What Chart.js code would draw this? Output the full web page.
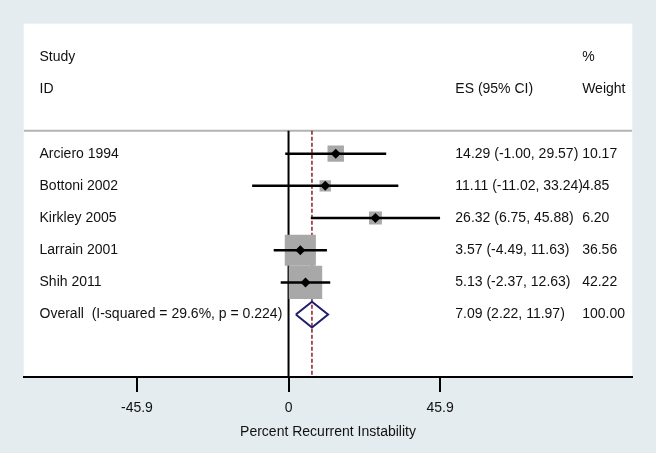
<!DOCTYPE html>
<html>
<head>
<meta charset="utf-8">
<script src="https://cdn.jsdelivr.net/npm/chart.js@4.4.0/dist/chart.umd.min.js"></script>
<style>
  html, body { margin: 0; padding: 0; background: #e5ecef; }
  #wrap { width: 656px; height: 453px; }
</style>
</head>
<body>
<div id="wrap"><canvas id="forest" width="656" height="453"></canvas></div>
<script>
// study rows, top to bottom
const studies = ["Arciero 1994", "Bottoni 2002", "Kirkley 2005", "Larrain 2001", "Shih 2011"];
const es = [14.29, 11.11, 26.32, 3.57, 5.13];
const lo = [-1.00, -11.02, 6.75, -4.49, -2.37];
const hi = [29.57, 33.24, 45.88, 11.63, 12.63];
const weights = [10.17, 4.85, 6.20, 36.56, 42.22];

const overallLabel = "Overall  (I-squared = 29.6%, p = 0.224)";
const overallEs = 7.09;
const overallLo = 2.22;
const overallHi = 11.97;
const overallWeight = 100.00;

const xTicks = [-45.9, 0, 45.9];
const xTitle = "Percent Recurrent Instability";

// layout in data units
const X_MIN = -80.2, X_MAX = 104.1;
const Y_MIN = -3.04, Y_MAX = 7.94;
const SEP_Y = 0.29;
const COL_LABEL = -75.4, COL_ES = 50.5, COL_WT = 88.9;
const overallRow = studies.length + 1;

const fmt = (v) => v.toFixed(2);
const ciText = (e, l, h) => `${fmt(e)} (${fmt(l)}, ${fmt(h)})`;

const seg = (pts, color, width, order, extra) => Object.assign({
  data: pts, showLine: true, pointRadius: 0, borderColor: color,
  borderWidth: width, order, fill: false
}, extra || {});

const datasets = [];
datasets.push(seg([{ x: X_MIN, y: SEP_Y }, { x: X_MAX, y: SEP_Y }], "#b3b3b3", 2, 20));
datasets.push(seg([{ x: 0, y: SEP_Y }, { x: 0, y: Y_MAX }], "#000", 2, 19));
datasets.push(seg([{ x: overallEs, y: SEP_Y }, { x: overallEs, y: Y_MAX }], "#8b1c2c", 1.5, 18, { borderDash: [4, 2] }));

// weight boxes
datasets.push({
  data: es.map((v, i) => ({ x: v, y: i + 1 })),
  pointStyle: "rect",
  pointRadius: weights.map(w => 3.64 * Math.sqrt(w)),
  backgroundColor: "#a8a8a8", borderWidth: 0, order: 10
});

// confidence intervals
studies.forEach((s, i) => {
  datasets.push(seg([{ x: lo[i], y: i + 1 }, { x: hi[i], y: i + 1 }], "#000", 2.5, 5));
});

// point estimates
datasets.push({
  data: es.map((v, i) => ({ x: v, y: i + 1 })),
  pointStyle: "rectRot", pointRadius: 5,
  backgroundColor: "#000", borderColor: "#000", borderWidth: 0, order: 1
});

// pooled diamond
const dh = 0.4;
datasets.push(seg([
  { x: overallLo, y: overallRow }, { x: overallEs, y: overallRow - dh },
  { x: overallHi, y: overallRow }, { x: overallEs, y: overallRow + dh },
  { x: overallLo, y: overallRow }
], "#1e1e6e", 2, 2, { tension: 0 }));

const bgPlugin = {
  id: "bg",
  beforeDraw(chart) {
    const { ctx, chartArea: a } = chart;
    ctx.save();
    ctx.fillStyle = "#e5ecef";
    ctx.fillRect(0, 0, chart.width, chart.height);
    ctx.fillStyle = "#fff";
    ctx.fillRect(a.left, a.top, a.right - a.left, a.bottom - a.top);
    ctx.restore();
  }
};

const textPlugin = {
  id: "forestText",
  afterDraw(chart) {
    const { ctx, scales: { x, y } } = chart;
    ctx.save();
    ctx.font = '14px "Liberation Sans", Arial, sans-serif';
    ctx.fillStyle = "#111";
    ctx.textBaseline = "middle";
    ctx.textAlign = "left";
    const put = (t, xv, yv) => ctx.fillText(t, x.getPixelForValue(xv), y.getPixelForValue(yv));

    put("Study", COL_LABEL, -2);
    put("ID", COL_LABEL, -1);
    put("ES (95% CI)", COL_ES, -1);
    put("%", COL_WT, -2);
    put("Weight", COL_WT, -1);

    studies.forEach((s, i) => {
      put(s, COL_LABEL, i + 1);
      put(ciText(es[i], lo[i], hi[i]), COL_ES, i + 1);
      put(fmt(weights[i]), COL_WT, i + 1);
    });
    put(overallLabel, COL_LABEL, overallRow);
    put(ciText(overallEs, overallLo, overallHi), COL_ES, overallRow);
    put(fmt(overallWeight), COL_WT, overallRow);
    ctx.restore();
  }
};

new Chart(document.getElementById("forest"), {
  type: "scatter",
  data: { datasets },
  options: {
    responsive: false,
    animation: false,
    events: [],
    layout: { padding: { left: 22, right: 9, top: 13, bottom: 14 } },
    plugins: { legend: { display: false }, tooltip: { enabled: false } },
    scales: {
      x: {
        type: "linear", min: X_MIN, max: X_MAX,
        afterBuildTicks: (axis) => { axis.ticks = xTicks.map(v => ({ value: v })); },
        border: { display: true, color: "#000", width: 2 },
        grid: { drawOnChartArea: false, drawTicks: true, tickLength: 15, color: "#000", lineWidth: 2 },
        ticks: {
          padding: 9, color: "#111", maxRotation: 0, autoSkip: false,
          font: { family: '"Liberation Sans", Arial, sans-serif', size: 14, lineHeight: 1 },
          callback: (v) => (v === 0 ? "0" : Number(v).toFixed(1))
        },
        title: {
          display: true, text: xTitle, color: "#111", padding: { top: 1, bottom: 0 },
          font: { family: '"Liberation Sans", Arial, sans-serif', size: 14, lineHeight: 1 }
        }
      },
      y: { type: "linear", min: Y_MIN, max: Y_MAX, reverse: true, display: false }
    }
  },
  plugins: [bgPlugin, textPlugin]
});
</script>
</body>
</html>
